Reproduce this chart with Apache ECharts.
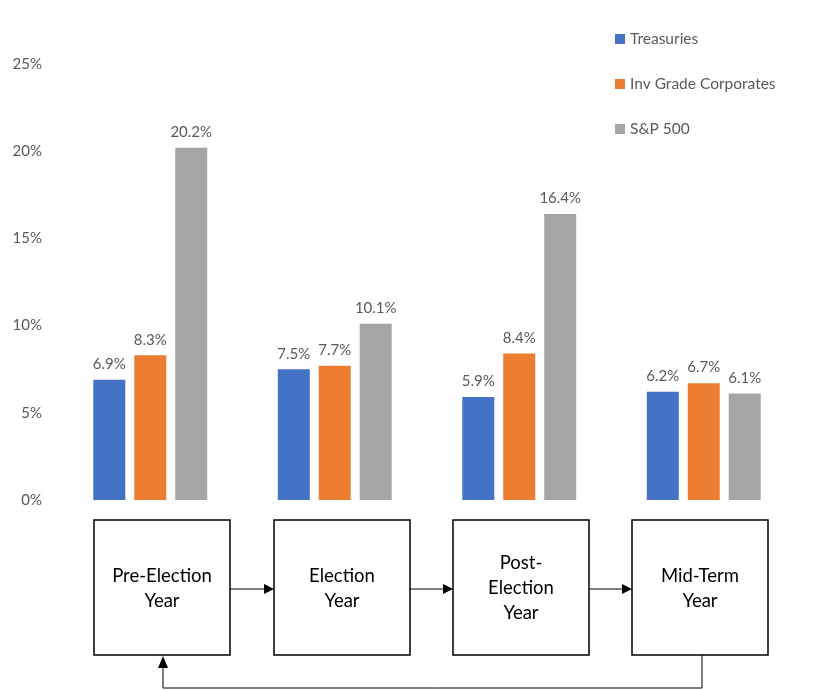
<!DOCTYPE html>
<html>
<head>
<meta charset="utf-8">
<script src="https://cdn.jsdelivr.net/npm/echarts@6/dist/echarts.min.js"></script>
<style>html,body{margin:0;padding:0;background:#fff}#c{width:817px;height:690px}</style>
</head>
<body>
<div id="c"></div>
<script>
const categories = ['Pre-Election Year', 'Election Year', 'Post-Election Year', 'Mid-Term Year'];
const boxLabels = ['Pre-Election\nYear', 'Election\nYear', 'Post-\nElection\nYear', 'Mid-Term\nYear'];
const treasuries = [6.9, 7.5, 5.9, 6.2];
const invGrade = [8.3, 7.7, 8.4, 6.7];
const sp500 = [20.2, 10.1, 16.4, 6.1];
const seriesNames = ['Treasuries', 'Inv Grade Corporates', 'S&P 500'];
const colors = ['#4472C4', '#ED7D31', '#A5A5A5'];

const FONT = 'Lato, "Open Sans", sans-serif';
const chart = echarts.init(document.getElementById('c'));

function mkSeries(name, data, color) {
  return {
    name: name, type: 'bar', data: data,
    barWidth: 32, barGap: '28%',
    itemStyle: { color: color },
    label: {
      show: true, position: 'top', distance: 8,
      formatter: p => p.value.toFixed(1) + '%',
      color: '#595959', fontSize: 15, fontFamily: FONT
    }
  };
}

// Flow diagram boxes (decorative)
const boxes = [[94, 520], [274, 520], [453, 520], [632, 520]];
const BW = 136, BH = 135;
const graphics = [];
boxes.forEach((b, i) => {
  graphics.push({
    type: 'rect', shape: { x: b[0], y: b[1], width: BW, height: BH },
    style: { fill: '#fff', stroke: '#000', lineWidth: 1.5 }
  });
  graphics.push({
    type: 'text', x: b[0] + BW / 2, y: b[1] + BH / 2 + 1,
    style: { text: boxLabels[i], fill: '#000', font: '18.5px ' + FONT, textAlign: 'center', textVerticalAlign: 'middle', lineHeight: 25 }
  });
});
const arrowY = 589;
for (let i = 0; i < 3; i++) {
  const x1 = boxes[i][0] + BW, x2 = boxes[i + 1][0];
  graphics.push({ type: 'line', shape: { x1: x1, y1: arrowY, x2: x2 - 9, y2: arrowY }, style: { stroke: '#000', lineWidth: 1 } });
  graphics.push({ type: 'polygon', shape: { points: [[x2 - 10, arrowY - 5], [x2, arrowY], [x2 - 10, arrowY + 5]] }, style: { fill: '#000' } });
}
graphics.push({ type: 'polyline', shape: { points: [[702, 655], [702, 688], [163, 688], [163, 668]] }, style: { stroke: '#000', lineWidth: 1, fill: null } });
graphics.push({ type: 'polygon', shape: { points: [[158, 668], [163, 656], [168, 668]] }, style: { fill: '#000' } });

chart.setOption({
  animation: false,
  textStyle: { fontFamily: FONT },
  legend: {
    orient: 'vertical', left: 610, top: 26, itemGap: 29,
    itemWidth: 10, itemHeight: 10, icon: 'rect',
    textStyle: { color: '#595959', fontSize: 15.5, fontFamily: FONT },
    data: seriesNames
  },
  grid: { left: 58, right: 21, top: 64, bottom: 190, containLabel: false },
  xAxis: {
    type: 'category', data: categories,
    axisLine: { show: false }, axisTick: { show: false }, axisLabel: { show: false }
  },
  yAxis: {
    type: 'value', min: 0, max: 25, interval: 5,
    splitLine: { show: false }, axisLine: { show: false }, axisTick: { show: false },
    axisLabel: { formatter: '{value}%', color: '#595959', fontSize: 15, fontFamily: FONT, margin: 16 }
  },
  series: [
    mkSeries(seriesNames[0], treasuries, colors[0]),
    mkSeries(seriesNames[1], invGrade, colors[1]),
    mkSeries(seriesNames[2], sp500, colors[2])
  ],
  graphic: graphics
});
</script>
</body>
</html>
